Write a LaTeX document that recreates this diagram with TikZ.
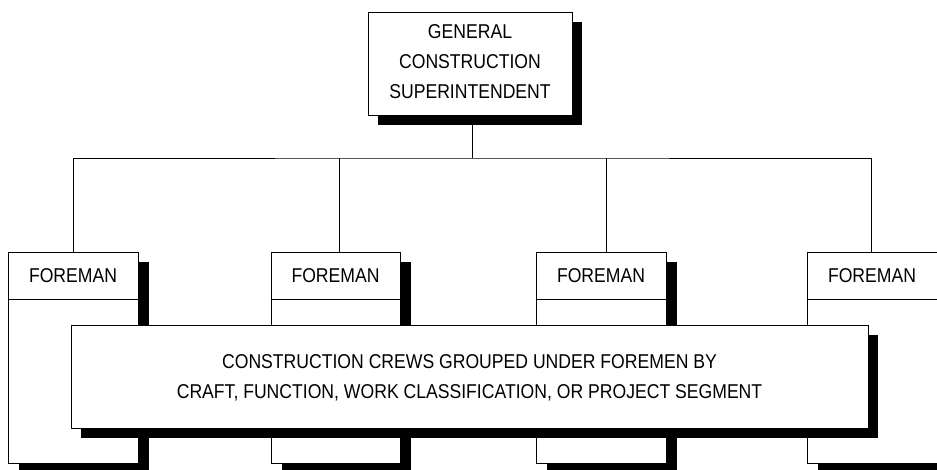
\documentclass[tikz,border=0pt]{standalone}
\usepackage{fontspec}
\setmainfont[FakeStretch=0.88]{Liberation Sans}
\usetikzlibrary{shadows}
\begin{document}
\begin{tikzpicture}[x=1pt,y=-1pt,
  line width=0.9pt,
  txt/.style={font=\fontsize{20}{30}\selectfont, align=center, inner sep=0pt},
  shadowbox/.style={draw, fill=white, rectangle, inner sep=0pt,
    drop shadow={opacity=1, fill=black, shadow xshift=#1, shadow yshift=-10pt}},
  shadowbox/.default=10pt,
  link/.style={line width=0.8pt}]
\useasboundingbox[fill=white] (0,0) rectangle (937,470);

% top level
\node[shadowbox, minimum width=204pt, minimum height=103pt] (top) at (470,63.5) {};
\node[txt] (toptext) at (470,62) {GENERAL\\CONSTRUCTION\\SUPERINTENDENT};

% foreman columns
\foreach \name/\cx/\w in {f1/73/130, f2/335.5/129, f3/601/130, f4/872/130}{
  \node[shadowbox=11pt, minimum width=\w pt, minimum height=211pt] (\name) at (\cx,357.5) {};
  \draw (\name.west |- 0,299) -- (\name.east |- 0,299);
  \node[txt] (\name t) at (\cx,276) {FOREMAN};
}

% crews spanning all foremen
\node[shadowbox, minimum width=797pt, minimum height=103pt] (crews) at (469.5,376.5) {};
\node[txt] (crewstext) at (469.5,377.5) {CONSTRUCTION CREWS GROUPED UNDER FOREMEN BY\\CRAFT, FUNCTION, WORK CLASSIFICATION, OR PROJECT SEGMENT};

% reporting lines
\coordinate (bus) at (472,158);
\draw[link] (top.south -| bus) -- (bus);
\draw[link] (73,0 |- f1.north) |- (bus) -| (871,0 |- f4.north);
\draw[link] (339,0 |- f2.north) -- (339,0 |- bus);
\draw[link] (606,0 |- f3.north) -- (606,0 |- bus);
\end{tikzpicture}
\end{document}
